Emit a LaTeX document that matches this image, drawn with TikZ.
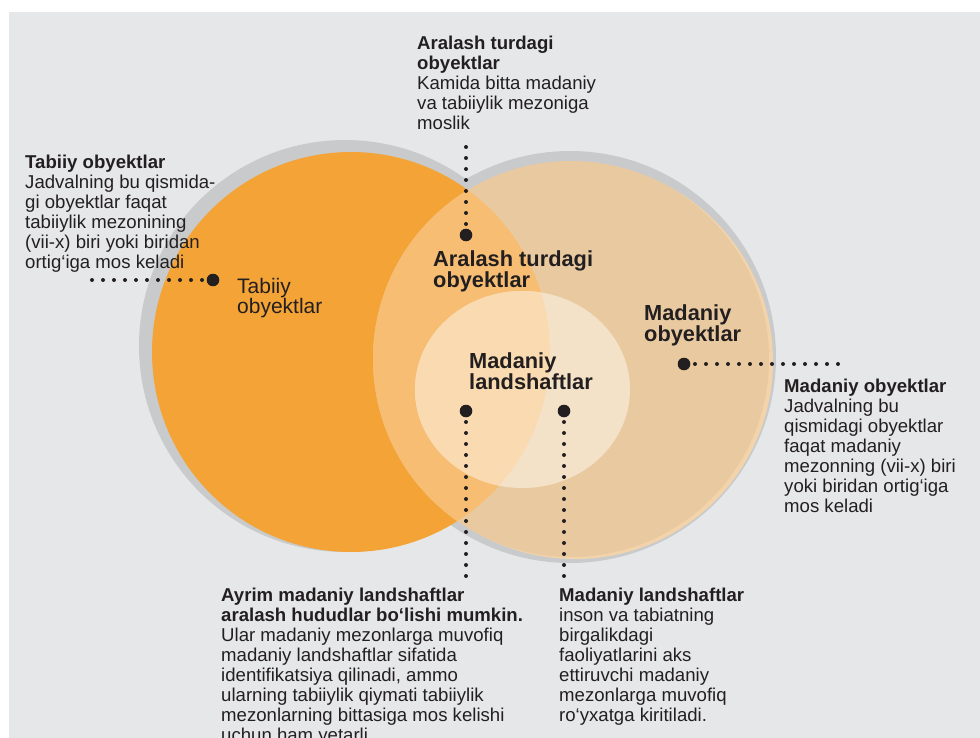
\documentclass[tikz,border=0pt]{standalone}
\usepackage{fontspec}
\setmainfont{Liberation Sans}
\definecolor{bgc}{HTML}{E6E7E9}
\definecolor{ringc}{HTML}{C9CACC}
\definecolor{orangec}{HTML}{F4A436}
\definecolor{beigec}{HTML}{E9C9A0}
\definecolor{overc}{HTML}{F7BD72}
\definecolor{peachc}{HTML}{F3D3A9}
\definecolor{innerb}{HTML}{F4E2C8}
\definecolor{innera}{HTML}{FADBB1}
\definecolor{inkc}{HTML}{231F20}
\tikzset{
  ann/.style={anchor=base west, inner sep=0pt, text=inkc, font=\fontsize{18.6}{20}\selectfont},
  lblb/.style={anchor=base west, inner sep=0pt, text=inkc, font=\fontsize{21.8}{20.3}\selectfont\bfseries},
  lblr/.style={anchor=base west, inner sep=0pt, text=inkc, font=\fontsize{21}{19.5}\selectfont},
  bigdot/.style={circle, fill=inkc, inner sep=0pt, minimum size=12.6pt},
  dotline/.style={draw=inkc, line width=4pt, line cap=round, dash pattern=on 0pt off 11pt}
}
\begin{document}
\begin{tikzpicture}[x=1pt,y=-1pt]
\useasboundingbox (0,0) rectangle (980,738);
\fill[white] (0,0) rectangle (980,738);
\fill[bgc] (9,12) rectangle (980,738);
% shadows
\fill[ringc] (345,346) circle[radius=206pt];
\fill[ringc] (570,357) circle[radius=206pt];
\fill[peachc] (575,361) circle[radius=198pt];
% main circles
\fill[orangec] (351,352) ellipse[x radius=199pt, y radius=200pt];
\fill[beigec] (571,359) circle[radius=198pt];
\begin{scope}
  \clip (351,352) ellipse[x radius=199pt, y radius=200pt];
  \fill[overc] (571,359) circle[radius=198pt];
\end{scope}
\fill[innerb] (522.5,389.5) ellipse[x radius=107.5pt, y radius=98.5pt];
\begin{scope}
  \clip (351,352) ellipse[x radius=199pt, y radius=200pt];
  \fill[innera] (522.5,389.5) ellipse[x radius=107.5pt, y radius=98.5pt];
\end{scope}
% circle labels
\node[lblb] (lmix) at (433,266.5) {\parbox[t]{200pt}{Aralash turdagi\\obyektlar}};
\node[lblr] (lnat) at (237,293) {\parbox[t]{150pt}{Tabiiy\\obyektlar}};
\node[lblb] (lcul) at (644,320) {\parbox[t]{150pt}{Madaniy\\obyektlar}};
\node[lblb] (lland) at (469,368) {\parbox[t]{150pt}{Madaniy\\landshaftlar}};
% dots
\node[bigdot] (dmix) at (466,235) {};
\node[bigdot] (dnat) at (213,280) {};
\node[bigdot] (dcul) at (684,364) {};
\node[bigdot] (dl1) at (466,411) {};
\node[bigdot] (dl2) at (564,411) {};
\coordinate (emix) at (466,143);
\coordinate (enat) at (88,280);
\coordinate (ecul) at (841,364);
\coordinate (el1) at (466,579);
\coordinate (el2) at (564,579);
\draw[dotline] (dmix.center) -- (emix);
\draw[dotline] (dnat.center) -- (enat);
\draw[dotline] (dcul.center) -- (ecul);
\draw[dotline] (dl1.center) -- (el1);
\draw[dotline] (dl2.center) -- (el2);
% annotations
\node[ann] (amix) at (417,50) {\parbox[t]{250pt}{\textbf{Aralash turdagi}\\\textbf{obyektlar}\\Kamida bitta madaniy\\va tabiiylik mezoniga\\moslik}};
\node[ann] (anat) at (25,169) {\parbox[t]{250pt}{\textbf{Tabiiy obyektlar}\\Jadvalning bu qismida-\\gi obyektlar faqat\\tabiiylik mezonining\\(vii-x) biri yoki biridan\\ortig‘iga mos keladi}};
\node[ann] (acul) at (784,392) {\parbox[t]{200pt}{\textbf{Madaniy obyektlar}\\Jadvalning bu\\qismidagi obyektlar\\faqat madaniy\\mezonning (vii-x) biri\\yoki biridan ortig‘iga\\mos keladi}};
\node[ann] (al1) at (221,601) {\parbox[t]{330pt}{\textbf{Ayrim madaniy landshaftlar}\\\textbf{aralash hududlar bo‘lishi mumkin.}\\Ular madaniy mezonlarga muvofiq\\madaniy landshaftlar sifatida\\identifikatsiya qilinadi, ammo\\ularning tabiiylik qiymati tabiiylik\\mezonlarning bittasiga mos kelishi\\uchun ham yetarli}};
\node[ann] (al2) at (559,601) {\parbox[t]{250pt}{\textbf{Madaniy landshaftlar}\\inson va tabiatning\\birgalikdagi\\faoliyatlarini aks\\ettiruvchi madaniy\\mezonlarga muvofiq\\ro‘yxatga kiritiladi.}};
\end{tikzpicture}
\end{document}
